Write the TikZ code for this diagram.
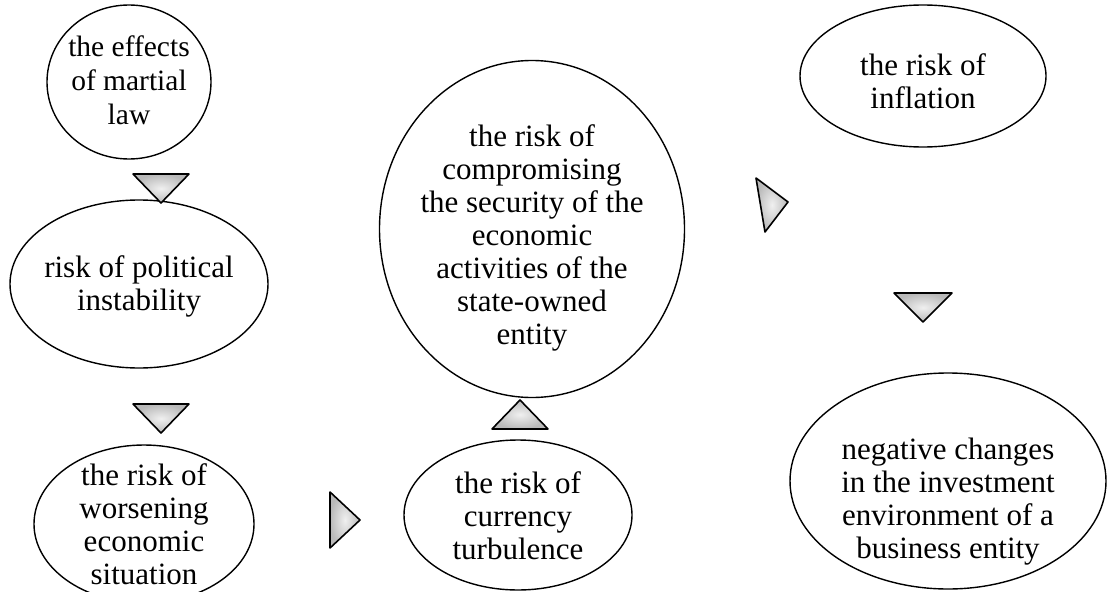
\documentclass[tikz,border=0pt]{standalone}
\usepackage{fontspec}
\setmainfont{Liberation Serif}
\usetikzlibrary{shapes.geometric}
\tikzset{
  oval/.style={ellipse, draw=black, line width=1.4pt, inner sep=0pt},
  lbl/.style={align=center, font=\fontsize{31}{33}\selectfont, inner sep=0pt},
  tri/.style={draw=black, line width=1.6pt, line join=round, shading=radial, inner color=gray!12, outer color=gray!55}
}
\begin{document}
\begin{tikzpicture}[x=1pt,y=-1pt]
\useasboundingbox (0,0) rectangle (1107,591);
% ellipses
\node[oval, minimum width=164pt, minimum height=154pt] (e1) at (129,82) {};
\node[oval, minimum width=258pt, minimum height=168pt] (e2) at (139,284) {};
\node[oval, minimum width=220pt, minimum height=158pt] (e3) at (144,524) {};
\node[oval, minimum width=228pt, minimum height=150pt] (e4) at (518,515) {};
\node[oval, minimum width=305pt, minimum height=337pt] (e5) at (532,229) {};
\node[oval, minimum width=246pt, minimum height=142pt] (e6) at (923,76) {};
\node[oval, minimum width=316pt, minimum height=216pt] (e7) at (948,481) {};
% texts
\node[lbl, font=\fontsize{29.5}{34}\selectfont] (t1) at (129,80) {the effects\\of martial\\law};
\node[lbl] (t2) at (139,286) {risk of political\\instability};
\node[lbl] (t3) at (144,524) {the risk of\\worsening\\economic\\situation};
\node[lbl] (t4) at (518,516) {the risk of\\currency\\turbulence};
\node[lbl] (t5) at (532,238) {the risk of\\compromising\\the security of the\\economic\\activities of the\\state-owned\\entity};
\node[lbl] (t6) at (923,81) {the risk of\\inflation};
\node[lbl] (t7) at (948,502) {negative changes\\in the investment\\environment of a\\business entity};
% triangles
\draw[tri] (133,174) -- (189,174) -- (161,203) -- cycle;
\draw[tri] (133,404) -- (189,404) -- (161,433) -- cycle;
\draw[tri] (330,492) -- (360,520) -- (330,548) -- cycle;
\draw[tri] (492,429) -- (548,429) -- (520,400) -- cycle;
\draw[tri] (756,178) -- (788,202) -- (765,232) -- cycle;
\draw[tri] (894,293) -- (952,293) -- (923,322) -- cycle;
\end{tikzpicture}
\end{document}
